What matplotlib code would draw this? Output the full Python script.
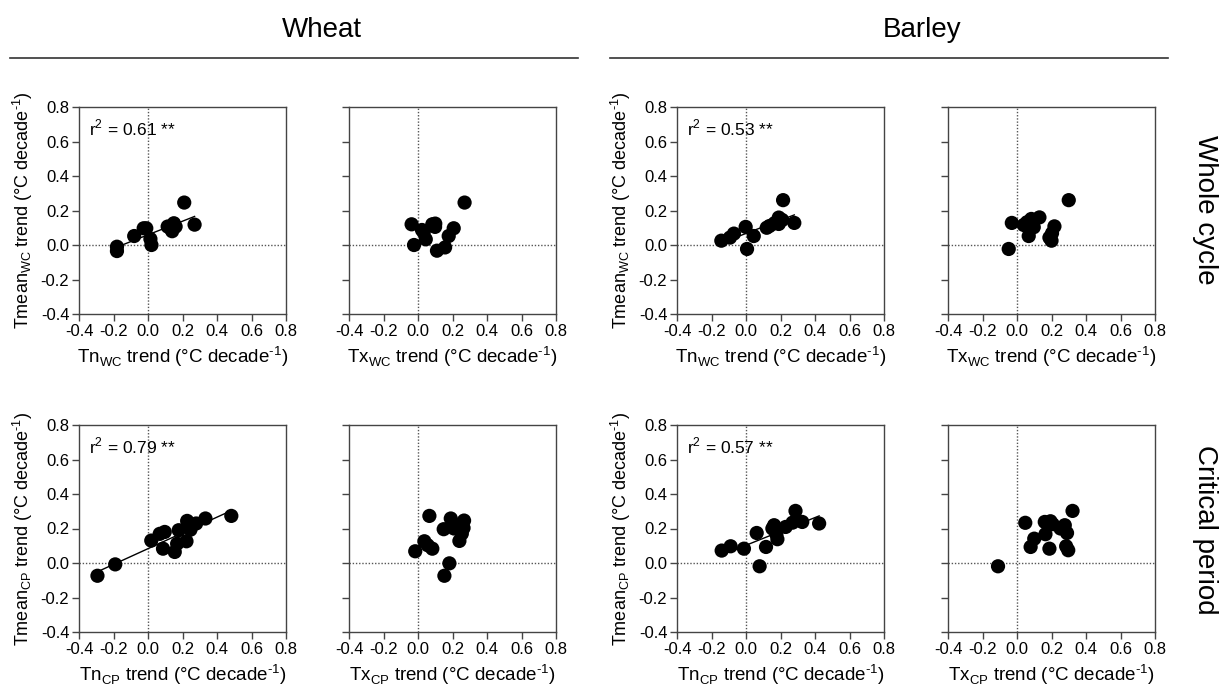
import numpy as np
import matplotlib
matplotlib.use("Agg")
import matplotlib.pyplot as plt

plt.rcParams['font.family'] = ['Liberation Sans', 'DejaVu Sans']

# ---------------- data ----------------
# Wheat, whole cycle
wheat_wc_tn_x = [-0.18, -0.18, -0.08, -0.025, -0.01, 0.014, 0.02, 0.114, 0.14, 0.15, 0.16, 0.13, 0.21, 0.27]
wheat_wc_tn_y = [-0.01, -0.035, 0.052, 0.097, 0.097, 0.035, 0.0, 0.107, 0.08, 0.126, 0.107, 0.097, 0.246, 0.118]
wheat_wc_tx_x = [-0.037, -0.023, 0.023, 0.033, 0.045, 0.083, 0.10, 0.099, 0.11, 0.157, 0.178, 0.207, 0.27]
wheat_wc_tx_y = [0.12, 0.0, 0.087, 0.074, 0.033, 0.12, 0.124, 0.105, -0.033, -0.014, 0.052, 0.097, 0.246]
# Barley, whole cycle
barley_wc_tn_x = [-0.143, -0.093, -0.07, -0.002, 0.006, 0.045, 0.12, 0.136, 0.165, 0.19, 0.19, 0.21, 0.215, 0.28]
barley_wc_tn_y = [0.025, 0.043, 0.066, 0.105, -0.023, 0.052, 0.10, 0.11, 0.126, 0.159, 0.122, 0.145, 0.26, 0.128]
barley_wc_tx_x = [-0.048, -0.03, 0.039, 0.058, 0.083, 0.068, 0.097, 0.13, 0.188, 0.20, 0.203, 0.217, 0.30, 0.078]
barley_wc_tx_y = [-0.023, 0.128, 0.116, 0.132, 0.151, 0.052, 0.103, 0.16, 0.043, 0.025, 0.068, 0.108, 0.26, 0.126]
# Wheat, critical period
wheat_cp_tn_x = [-0.293, -0.19, 0.019, 0.068, 0.097, 0.087, 0.155, 0.169, 0.178, 0.223, 0.227, 0.236, 0.246, 0.279, 0.333, 0.483]
wheat_cp_tn_y = [-0.074, -0.008, 0.13, 0.169, 0.18, 0.083, 0.064, 0.112, 0.19, 0.126, 0.244, 0.219, 0.193, 0.229, 0.258, 0.273]
wheat_cp_tx_x = [-0.016, 0.037, 0.056, 0.083, 0.066, 0.149, 0.19, 0.182, 0.153, 0.209, 0.225, 0.254, 0.267, 0.24, 0.264]
wheat_cp_tx_y = [0.068, 0.126, 0.103, 0.083, 0.273, 0.196, 0.258, -0.002, -0.074, 0.20, 0.219, 0.17, 0.246, 0.128, 0.203]
# Barley, critical period
barley_cp_tn_x = [-0.141, -0.089, -0.012, 0.062, 0.079, 0.116, 0.153, 0.163, 0.176, 0.182, 0.23, 0.27, 0.287, 0.326, 0.424]
barley_cp_tn_y = [0.072, 0.097, 0.083, 0.174, -0.019, 0.093, 0.20, 0.219, 0.167, 0.138, 0.209, 0.234, 0.302, 0.238, 0.229]
barley_cp_tx_x = [-0.11, 0.048, 0.10, 0.079, 0.161, 0.194, 0.207, 0.165, 0.188, 0.252, 0.277, 0.29, 0.285, 0.297, 0.322]
barley_cp_tx_y = [-0.019, 0.233, 0.141, 0.093, 0.238, 0.242, 0.225, 0.167, 0.083, 0.20, 0.219, 0.174, 0.097, 0.074, 0.302]

r2_labels = {"wheat_wc": "0.61", "barley_wc": "0.53", "wheat_cp": "0.79", "barley_cp": "0.57"}
ticks = [-0.4, -0.2, 0.0, 0.2, 0.4, 0.6, 0.8]
tick_labels = ["-0.4", "-0.2", "0.0", "0.2", "0.4", "0.6", "0.8"]

W, H = 1226, 689
fig = plt.figure(figsize=(W / 100, H / 100), dpi=100)

col_left = [79, 349, 677, 948]
row_top = [107, 425]
size = 207

panels = [
    (0, 0, wheat_wc_tn_x, wheat_wc_tn_y, "Tn", "WC", "wheat_wc"),
    (0, 1, wheat_wc_tx_x, wheat_wc_tx_y, "Tx", "WC", None),
    (0, 2, barley_wc_tn_x, barley_wc_tn_y, "Tn", "WC", "barley_wc"),
    (0, 3, barley_wc_tx_x, barley_wc_tx_y, "Tx", "WC", None),
    (1, 0, wheat_cp_tn_x, wheat_cp_tn_y, "Tn", "CP", "wheat_cp"),
    (1, 1, wheat_cp_tx_x, wheat_cp_tx_y, "Tx", "CP", None),
    (1, 2, barley_cp_tn_x, barley_cp_tn_y, "Tn", "CP", "barley_cp"),
    (1, 3, barley_cp_tx_x, barley_cp_tx_y, "Tx", "CP", None),
]

units = " trend (°C decade$^{\\mathregular{\u20101}}$)"
spine_col = "#444444"
for r, c, xs, ys, var, sub, key in panels:
    l = col_left[c] / W
    b = (H - row_top[r] - size) / H
    ax = fig.add_axes([l, b, size / W, size / H])
    ax.set_xlim(-0.4, 0.8)
    ax.set_ylim(-0.4, 0.8)
    ax.axvline(0, color="#555555", lw=1.0, ls=(0, (1, 1.3)), zorder=1)
    ax.axhline(0, color="#555555", lw=1.0, ls=(0, (1, 1.3)), zorder=1)
    ax.scatter(xs, ys, s=105, color="black", edgecolors="none", zorder=3)
    if key is not None:
        xa = np.array(xs); ya = np.array(ys)
        p = np.polyfit(xa, ya, 1)
        xx = np.array([xa.min(), xa.max()])
        ax.plot(xx, np.polyval(p, xx), color="black", lw=1.0, zorder=2)
        ax.text(-0.34, 0.68, r"r$^{\mathregular{2}}$ = " + r2_labels[key] + " **", fontsize=12.5,
                va="center", ha="left")
    ax.set_xticks(ticks)
    ax.set_xticklabels(tick_labels)
    ax.set_yticks(ticks)
    if c in (0, 2):
        ax.set_yticklabels(tick_labels)
        ax.set_ylabel("Tmean$_{\\mathregular{" + sub + "}}$" + units, fontsize=13, labelpad=4)
    else:
        ax.set_yticklabels([])
    ax.set_xlabel(var + "$_{\\mathregular{" + sub + "}}$" + units, fontsize=13.5, labelpad=4)
    ax.tick_params(direction="out", length=5, width=1.0, color=spine_col,
                   labelsize=12, pad=2)
    for s in ax.spines.values():
        s.set_color(spine_col)
        s.set_linewidth(1.0)

# group titles and rules
fig.text(322 / W, 1 - 30 / H, "Wheat", fontsize=20, ha="center", va="center")
fig.text(922 / W, 1 - 30 / H, "Barley", fontsize=20, ha="center", va="center")
fig.add_artist(plt.Line2D([10 / W, 578 / W], [1 - 58 / H, 1 - 58 / H], color="#333333", lw=1.2))
fig.add_artist(plt.Line2D([610 / W, 1168 / W], [1 - 58 / H, 1 - 58 / H], color="#333333", lw=1.2))

# row labels
fig.text(1205 / W, 1 - 210 / H, "Whole cycle", fontsize=20, rotation=-90, ha="center", va="center")
fig.text(1205 / W, 1 - 530 / H, "Critical period", fontsize=20, rotation=-90, ha="center", va="center")

fig.savefig("out.png", dpi=100)
